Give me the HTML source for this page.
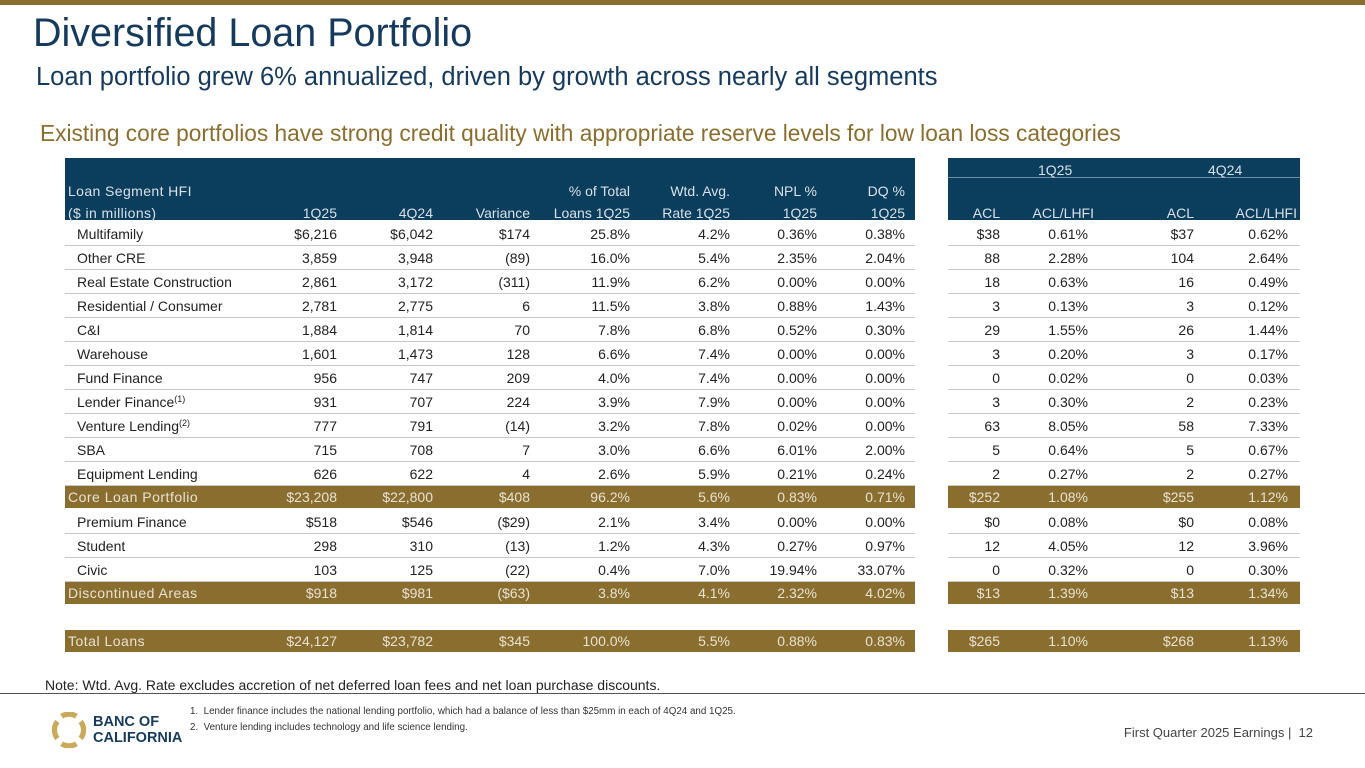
<!DOCTYPE html>
<html><head><meta charset="utf-8">
<style>
body{margin:0;width:1365px;height:768px;position:relative;background:#fff;font-family:"Liberation Sans",sans-serif;overflow:hidden}
.a{position:absolute;white-space:nowrap}
.c{position:absolute;white-space:nowrap;font-size:14px;line-height:22px}
.r{text-align:right}
sup{font-size:9px;line-height:0;vertical-align:5px}
</style></head><body>
<div class="a" style="left:0;top:0;width:1365px;height:5px;background:#8a6e2f"></div>
<div class="a" style="left:33px;top:11px;font-size:39.5px;color:#163a5c">Diversified Loan Portfolio</div>
<div class="a" style="left:36px;top:63px;font-size:25.5px;color:#163a5c">Loan portfolio grew 6% annualized, driven by growth across nearly all segments</div>
<div class="a" style="left:40px;top:120px;font-size:22.7px;color:#8a6e2f">Existing core portfolios have strong credit quality with appropriate reserve levels for low loan loss categories</div>
<div id="tbl"></div>
<div class="a" style="left:45px;top:677px;font-size:14px;color:#222">Note: Wtd. Avg. Rate excludes accretion of net deferred loan fees and net loan purchase discounts.</div>
<div class="a" style="left:0;top:693px;width:1365px;height:1px;background:#555"></div>
<svg class="a" style="left:51px;top:712px" width="36" height="36" viewBox="0 0 34 34">
<g fill="none" stroke="#c9a95a" stroke-width="5">
<path d="M6 9 A13 13 0 0 0 6 25"/><path d="M28 9 A13 13 0 0 1 28 25"/>
<path d="M10 4 A13 13 0 0 1 24 4"/><path d="M10 30 A13 13 0 0 0 24 30"/></g></svg>
<div class="a" style="left:93px;top:714px;font-size:14.5px;font-weight:bold;color:#163a5c;line-height:16px">BANC OF<br>CALIFORNIA</div>
<div class="a" style="left:190px;top:706px;font-size:9.8px;color:#333">1.&nbsp; Lender finance includes the national lending portfolio, which had a balance of less than $25mm in each of 4Q24 and 1Q25.</div>
<div class="a" style="left:190px;top:722px;font-size:9.8px;color:#333">2.&nbsp; Venture lending includes technology and life science lending.</div>
<div class="a" style="right:52px;top:725px;font-size:13px;color:#444">First Quarter 2025 Earnings |&nbsp; 12</div>
<script>
const segments=["Multifamily","Other CRE","Real Estate Construction","Residential / Consumer","C&I","Warehouse","Fund Finance","Lender Finance<sup>(1)</sup>","Venture Lending<sup>(2)</sup>","SBA","Equipment Lending","Core Loan Portfolio","Premium Finance","Student","Civic","Discontinued Areas","","Total Loans"];
const rowType=["n","n","n","n","n","n","n","n","n","n","n","g","n","n","n","g","b","g"];
const col1Q25=["$6,216","3,859","2,861","2,781","1,884","1,601","956","931","777","715","626","$23,208","$518","298","103","$918","","$24,127"];
const col4Q24=["$6,042","3,948","3,172","2,775","1,814","1,473","747","707","791","708","622","$22,800","$546","310","125","$981","","$23,782"];
const colVar=["$174","(89)","(311)","6","70","128","209","224","(14)","7","4","$408","($29)","(13)","(22)","($63)","","$345"];
const colPct=["25.8%","16.0%","11.9%","11.5%","7.8%","6.6%","4.0%","3.9%","3.2%","3.0%","2.6%","96.2%","2.1%","1.2%","0.4%","3.8%","","100.0%"];
const colRate=["4.2%","5.4%","6.2%","3.8%","6.8%","7.4%","7.4%","7.9%","7.8%","6.6%","5.9%","5.6%","3.4%","4.3%","7.0%","4.1%","","5.5%"];
const colNPL=["0.36%","2.35%","0.00%","0.88%","0.52%","0.00%","0.00%","0.00%","0.02%","6.01%","0.21%","0.83%","0.00%","0.27%","19.94%","2.32%","","0.88%"];
const colDQ=["0.38%","2.04%","0.00%","1.43%","0.30%","0.00%","0.00%","0.00%","0.00%","2.00%","0.24%","0.71%","0.00%","0.97%","33.07%","4.02%","","0.83%"];
const aclQ1=["$38","88","18","3","29","3","0","3","63","5","2","$252","$0","12","0","$13","","$265"];
const aclPctQ1=["0.61%","2.28%","0.63%","0.13%","1.55%","0.20%","0.02%","0.30%","8.05%","0.64%","0.27%","1.08%","0.08%","4.05%","0.32%","1.39%","","1.10%"];
const aclQ4=["$37","104","16","3","26","3","0","2","58","5","2","$255","$0","12","0","$13","","$268"];
const aclPctQ4=["0.62%","2.64%","0.49%","0.12%","1.44%","0.17%","0.03%","0.23%","7.33%","0.67%","0.27%","1.12%","0.08%","3.96%","0.30%","1.34%","","1.13%"];

const NAVY="#0b3d5c",GOLD="#8a6e2f";
const T=document.getElementById('tbl');
function box(x,y,w,h,bg,name){const d=document.createElement('div');d.className='a';d.style.cssText=`left:${x}px;top:${y}px;width:${w}px;height:${h}px;background:${bg}`;


T.appendChild(d);return d;}
function txt(x,y,s,right,color,name,ls){const d=document.createElement('div');d.className='c'+(right?' r':'');d.innerHTML=s;
d.style.top=y+'px';d.style.color=color;if(ls)d.style.letterSpacing=ls;
if(right){d.style.right=(1365-x)+'px';}else d.style.left=x+'px';


T.appendChild(d);return d;}
box(65,158,850,62,NAVY,'left-header');
box(948,158,352,62,NAVY,'right-header');
box(948,177,352,1,'#6f8ea5','right-header-rule');
const hc="#d8e0e8";
txt(68,180,"Loan Segment HFI",false,hc,'header-segment','0.4px');
txt(68,202,"($ in millions)",false,hc,'header-units','0.4px');
const lh=[[337,"","1Q25"],[433,"","4Q24"],[530,"","Variance"],[630,"% of Total","Loans 1Q25"],[730,"Wtd. Avg.","Rate 1Q25"],[817,"NPL %","1Q25"],[905,"DQ %","1Q25"]];
lh.forEach(h=>{if(h[1])txt(h[0],180,h[1],true,hc,'header-top');txt(h[0],202,h[2],true,hc,'header-col');});
txt(1038,159,"1Q25",false,hc,'header-1q25');txt(1208,159,"4Q24",false,hc,'header-4q24');
[[1000,"ACL"],[1094,"ACL/LHFI"],[1194,"ACL"],[1297,"ACL/LHFI"]].forEach(h=>txt(h[0],202,h[1],true,hc,'header-col'));
let y=222;
const lcols=[[337,col1Q25],[433,col4Q24],[530,colVar],[630,colPct],[730,colRate],[817,colNPL],[905,colDQ]];
const rcols=[[1000,aclQ1],[1088,aclPctQ1],[1194,aclQ4],[1288,aclPctQ4]];
segments.forEach((s,i)=>{
  const t=rowType[i];
  if(t==="b"){y+=24;return;}
  const h=t==="g"?22:24;
  let color="#222";
  if(t==="g"){box(65,y,850,h,GOLD,'subtotal-row-left');box(948,y,352,h,GOLD,'subtotal-row-right');color="#e8e2d2";}
  else{box(65,y+h-1,850,1,'#c8c8c8','row-rule');box(948,y+h-1,352,1,'#c8c8c8','row-rule');}
  const ty=y+(h-22)/2;
  txt(t==="g"?68:77,ty,s,false,color,'row-label',t==="g"?'0.5px':null);
  lcols.forEach(c=>txt(c[0],ty,c[1][i],true,color,'cell'));
  rcols.forEach(c=>txt(c[0],ty,c[1][i],true,color,'cell'));
  y+=h+(t==="g"?2:0);
});
</script>
</body></html>
